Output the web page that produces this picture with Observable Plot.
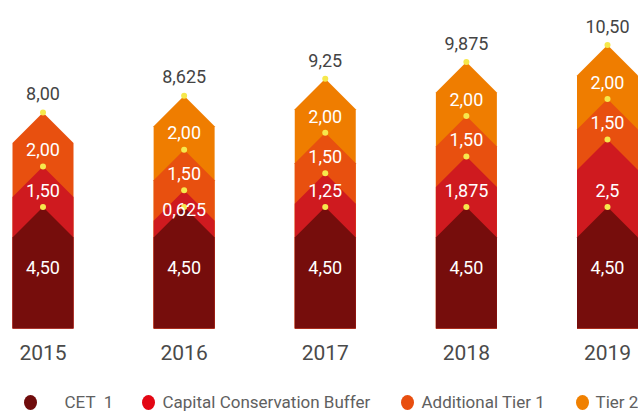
<!DOCTYPE html>
<html>
<head>
<meta charset="utf-8">
<script src="https://cdn.jsdelivr.net/npm/d3@7"></script>
<script src="https://cdn.jsdelivr.net/npm/@observablehq/plot@0.6"></script>
<style>
  body { margin: 0; background: #fff; font-family: Roboto, sans-serif; }
  #wrap { position: relative; width: 638px; height: 412px; }
  #legend { position: absolute; left: 0; top: 391px; width: 638px; height: 22px; font-size: 17px; color: #606060; }
  .item { position: absolute; top: 0; display: flex; align-items: center; height: 22px; white-space: pre; }
  .dot { width: 13px; height: 15px; border-radius: 50%; display: inline-block; }
</style>
</head>
<body>
<div id="wrap"><div id="chart"></div><div id="legend"></div></div>
<script>
const years = [2015, 2016, 2017, 2018, 2019];
const seriesNames = ["CET  1", "Capital Conservation Buffer", "Additional Tier 1", "Tier 2"];
const cet1 = [4.5, 4.5, 4.5, 4.5, 4.5];
const ccb = [1.5, 0.625, 1.25, 1.875, 2.5];
const at1 = [2.0, 1.5, 1.5, 1.5, 1.5];
const tier2 = [0, 2.0, 2.0, 2.0, 2.0];
const cet1Labels = ["4,50", "4,50", "4,50", "4,50", "4,50"];
const ccbLabels = ["1,50", "0,625", "1,25", "1,875", "2,5"];
const at1Labels = ["2,00", "1,50", "1,50", "1,50", "1,50"];
const tier2Labels = ["", "2,00", "2,00", "2,00", "2,00"];
const totalLabels = ["8,00", "8,625", "9,25", "9,875", "10,50"];

const barColors = ["#760d0c", "#cf1a1f", "#e8500f", "#ef7d00"];
const legendColors = ["#700c0c", "#e30613", "#e84e0f", "#f08000"];

const seriesValues = [cet1, ccb, at1, tier2];
const seriesLabels = [cet1Labels, ccbLabels, at1Labels, tier2Labels];

// layout
const W = 638, H = 375;
const mL = 42.5, mR = 31, mT = 4, mB = 47;
const yMax = 12;
const pxPerYear = (W - mL - mR) / (years[years.length - 1] - years[0]);
const pxPerUnit = (H - mT - mB) / yMax;
const halfW = 30.5 / pxPerYear;   // half column width in year units
const roofH = 30.5 / pxPerUnit;   // roof height in value units

// build segments (cumulative peaks)
const segs = [];
years.forEach((yr, j) => {
  let cum = 0;
  seriesValues.forEach((vals, i) => {
    const v = vals[j];
    const prev = cum;
    cum += v;
    if (v > 0) segs.push({year: yr, series: i, prev, peak: cum, value: v, label: seriesLabels[i][j]});
  });
});

const polys = [];
segs.forEach((s) => {
  const key = s.year + "-" + s.series;
  const pts = [
    [s.year - halfW, 0],
    [s.year - halfW, s.peak - roofH],
    [s.year, s.peak],
    [s.year + halfW, s.peak - roofH],
    [s.year + halfW, 0]
  ];
  pts.forEach(([x, y]) => polys.push({key, series: s.series, x, y}));
});

const totals = years.map((yr, j) => ({year: yr, total: seriesValues.reduce((a, vals) => a + vals[j], 0), label: totalLabels[j]}));

const marks = [];
// draw top-most series first so lower ones overlay
for (let i = seriesValues.length - 1; i >= 0; i--) {
  marks.push(Plot.line(polys.filter(d => d.series === i), {
    x: "x", y: "y", z: "key", fill: barColors[i], stroke: "none", curve: "linear-closed"
  }));
}
// yellow peak dots
marks.push(Plot.dot(segs, {x: "year", y: "peak", r: 3, fill: "#f6e84c", stroke: "none"}));
// value labels
marks.push(Plot.text(segs.filter(s => s.series === 0), {
  x: "year", y: s => s.value / 2, text: "label", fill: "#fff", fontSize: 18
}));
marks.push(Plot.text(segs.filter(s => s.series > 0 && s.value >= 1), {
  x: "year", y: "prev", dy: -16, text: "label", fill: "#fff", fontSize: 18
}));
marks.push(Plot.text(segs.filter(s => s.series > 0 && s.value < 1), {
  x: "year", y: "prev", dy: 3, text: "label", fill: "#fff", fontSize: 18
}));
// totals
marks.push(Plot.text(totals, {x: "year", y: "total", dy: -18, text: "label", fill: "#444", fontSize: 18}));
// year labels
marks.push(Plot.text(years, {x: d => d, y: () => 0, dy: 25, text: d => String(d), fill: "#4a4a4a", fontSize: 21}));

const chart = Plot.plot({
  width: W, height: H,
  marginLeft: mL, marginRight: mR, marginTop: mT, marginBottom: mB,
  x: {domain: [years[0], years[years.length - 1]], axis: null},
  y: {domain: [0, yMax], axis: null},
  style: {fontFamily: "Roboto, sans-serif", background: "#fff", overflow: "visible"},
  marks
});
document.getElementById("chart").appendChild(chart);

// legend
const legendDotX = [30, 148, 407, 582];
const legendGap = [28, 8, 8, 7];
const legend = document.getElementById("legend");
seriesNames.forEach((name, i) => {
  const item = document.createElement("div");
  item.className = "item";
  item.style.left = (legendDotX[i] - 6.5) + "px";
  const dot = document.createElement("span");
  dot.className = "dot";
  dot.style.background = legendColors[i];
  const txt = document.createElement("span");
  txt.textContent = name;
  txt.style.marginLeft = legendGap[i] + "px";
  item.appendChild(dot);
  item.appendChild(txt);
  legend.appendChild(item);
});
</script>
</body>
</html>
